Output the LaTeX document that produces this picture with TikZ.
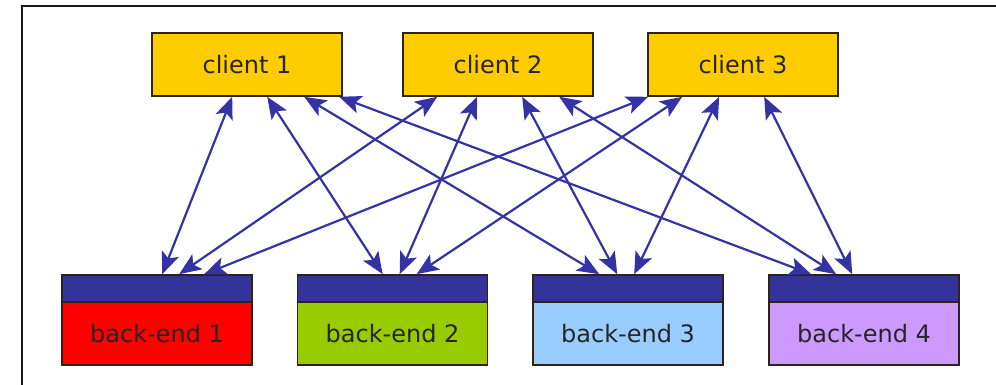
\documentclass[tikz,border=0pt]{standalone}
\usepackage{fontspec}
\setmainfont{DejaVu Sans}
\usetikzlibrary{arrows.meta,calc}
\definecolor{clientfill}{RGB}{255,204,0}
\definecolor{edgecol}{RGB}{45,35,25}
\definecolor{bandblue}{RGB}{51,51,153}
\definecolor{linkblue}{RGB}{51,51,165}
\definecolor{beRed}{RGB}{255,0,0}
\definecolor{beGreen}{RGB}{153,204,0}
\definecolor{beBlue}{RGB}{153,204,255}
\definecolor{bePurple}{RGB}{204,153,255}
\tikzset{
  linktip/.tip={Stealth[length=22pt,width=18pt,inset=5pt]},
}
\begin{document}
\begin{tikzpicture}[x=1pt,y=-1pt,
  box/.style={draw=edgecol, line width=1.6pt, minimum width=190pt, inner sep=0pt,
    font=\fontsize{24}{28}\selectfont, text=black!85},
  client/.style={box, fill=clientfill, minimum height=63pt},
  bebody/.style={box, minimum height=63pt},
  behead/.style={box, fill=bandblue, minimum height=27pt},
  link/.style={draw=linkblue, line width=2.2pt, linktip-linktip}
]
\useasboundingbox (0,0) rectangle (996,384);
% outer frame
\draw[line width=1.6pt, black!90] (22,390) -- (22,6) -- (1000,6);

% clients
\node[client] (c1) at (247,64.5) {client 1};
\node[client] (c2) at (498,64.5) {client 2};
\node[client] (c3) at (743,64.5) {client 3};

% back-ends: coloured body with a dark header band
\node[behead] (h1) at (157,288.5) {};
\node[behead] (h2) at (392.5,288.5) {};
\node[behead] (h3) at (628,288.5) {};
\node[behead] (h4) at (864,288.5) {};
\node[bebody, fill=beRed]    (b1) at (157,333.5) {back-end 1};
\node[bebody, fill=beGreen]  (b2) at (392.5,333.5) {back-end 2};
\node[bebody, fill=beBlue]   (b3) at (628,333.5) {back-end 3};
\node[bebody, fill=bePurple] (b4) at (864,333.5) {back-end 4};

% client 1 links
\draw[link] ($(c1.south west)+(81,0)$)  -- ($(h1.north west)+(101,0)$);
\draw[link] ($(c1.south west)+(116,0)$) -- ($(h2.north west)+(86,0)$);
\draw[link] ($(c1.south west)+(153,0)$) -- ($(h3.north west)+(67,0)$);
\draw[link] ($(c1.south west)+(188,0)$) -- ($(h4.north west)+(43,0)$);
% client 2 links
\draw[link] ($(c2.south west)+(35,0)$)  -- ($(h1.north west)+(118,0)$);
\draw[link] ($(c2.south west)+(75,0)$)  -- ($(h2.north west)+(103,0)$);
\draw[link] ($(c2.south west)+(120,0)$) -- ($(h3.north west)+(85,0)$);
\draw[link] ($(c2.south west)+(157,0)$) -- ($(h4.north west)+(68,0)$);
% client 3 links
\draw[link] ($(c3.south west)+(1,0)$)   -- ($(h1.north west)+(143,0)$);
\draw[link] ($(c3.south west)+(35,0)$)  -- ($(h2.north west)+(120,0)$);
\draw[link] ($(c3.south west)+(72,0)$)  -- ($(h3.north west)+(102,0)$);
\draw[link] ($(c3.south west)+(117,0)$) -- ($(h4.north west)+(84,0)$);
\end{tikzpicture}
\end{document}
